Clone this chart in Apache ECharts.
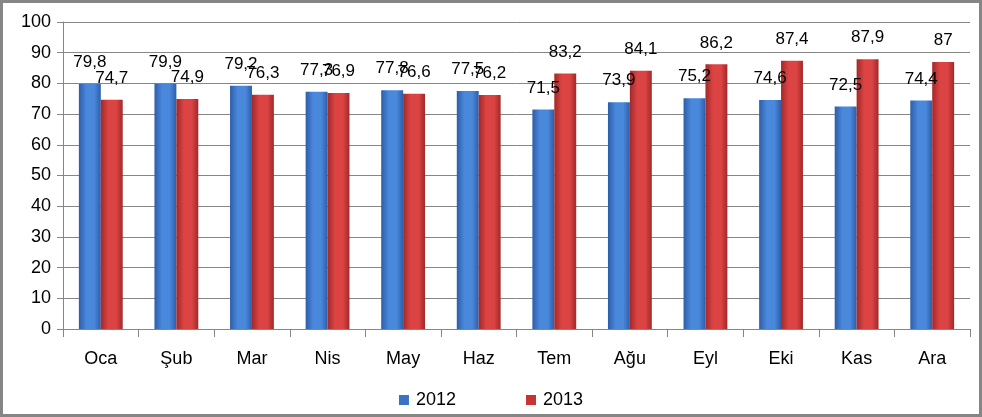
<!DOCTYPE html>
<html><head><meta charset="utf-8">
<script src="https://cdn.jsdelivr.net/npm/echarts@6/dist/echarts.min.js"></script>
<style>html,body{margin:0;padding:0;background:#fff}#c{width:982px;height:417px}</style>
</head><body><div id="c"></div>
<script>
const categories = ['Oca','Şub','Mar','Nis','May','Haz','Tem','Ağu','Eyl','Eki','Kas','Ara'];
const values2012 = [79.8,79.9,79.2,77.3,77.8,77.5,71.5,73.9,75.2,74.6,72.5,74.4];
const values2013 = [74.7,74.9,76.3,76.9,76.6,76.2,83.2,84.1,86.2,87.4,87.9,87];
const seriesNames = ['2012','2013'];

const font = 'Liberation Sans, Arial, sans-serif';
function grad(edge, mid) {
  return new echarts.graphic.LinearGradient(0,0,1,0,[
    {offset:0,color:edge},{offset:0.35,color:mid},{offset:0.7,color:mid},{offset:1,color:edge}]);
}
const fmt = p => String(p.value).replace('.', ',');
const chart = echarts.init(document.getElementById('c'));
chart.setOption({
  animation:false,
  backgroundColor:'#fff',
  graphic:[{type:'rect',shape:{x:1.5,y:1.5,width:979,height:414},style:{fill:'none',stroke:'#868686',lineWidth:3},z:100}],
  grid:{left:63,right:12,top:22,bottom:88},
  legend:{top:386,left:'center',itemWidth:10,itemHeight:10,itemGap:70,
    textStyle:{fontFamily:font,fontSize:18,color:'#000',padding:[0,0,0,2]},
    data:[{name:'2012',icon:'rect',itemStyle:{color:'#3a72c4'}},{name:'2013',icon:'rect',itemStyle:{color:'#c83434'}}]},
  xAxis:{type:'category',data:categories,
    axisLine:{lineStyle:{color:'#868686',width:1}},
    axisTick:{show:true,length:8,lineStyle:{color:'#868686'}},
    axisLabel:{fontFamily:font,fontSize:18,color:'#000',margin:21}},
  yAxis:{type:'value',min:0,max:100,interval:10,
    axisLine:{show:true,lineStyle:{color:'#868686'}},
    axisTick:{show:true,length:6,lineStyle:{color:'#868686'}},
    splitLine:{lineStyle:{color:'#868686',width:1}},
    axisLabel:{fontFamily:font,fontSize:18,color:'#000',margin:12}},
  series:[
    {name:seriesNames[0],type:'bar',data:values2012,barGap:'0%',barCategoryGap:'42%',
     itemStyle:{color:grad('#2c5ea8','#4a88dc')},
     label:{show:true,position:'top',distance:13,formatter:fmt,fontFamily:font,fontSize:17,color:'#000'}},
    {name:seriesNames[1],type:'bar',data:values2013,barGap:'0%',barCategoryGap:'42%',
     itemStyle:{color:grad('#a32828','#dc4444')},
     label:{show:true,position:'top',distance:13,formatter:fmt,fontFamily:font,fontSize:17,color:'#000'}}
  ]
});
</script></body></html>
